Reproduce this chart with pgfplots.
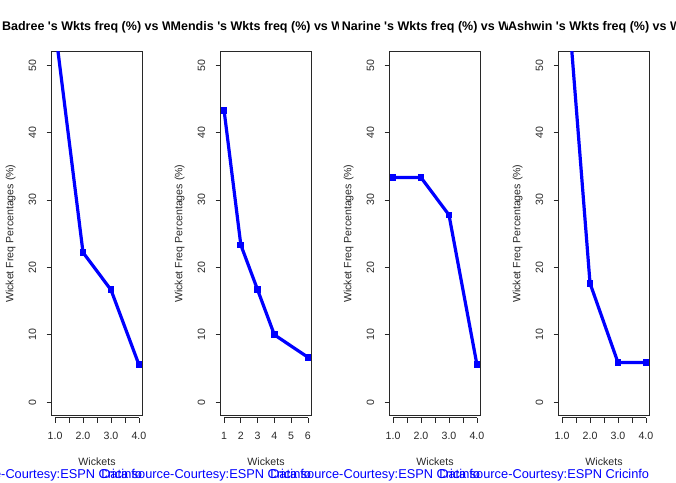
\documentclass[border=0pt]{standalone}
\usepackage{fontspec}
\setmainfont{Liberation Sans}
\usepackage{pgfplots}
\pgfplotsset{compat=1.18}
\definecolor{rblue}{RGB}{0,0,255}
\definecolor{rgray}{RGB}{40,40,40}
\pgfplotsset{
 rpanel/.style={
  anchor=south west, width=90.6pt, height=364pt, scale only axis,
  ymin=-2, ymax=52, ytick={0,10,20,30,40,50},
  tick align=outside, major tick length=5pt,
  xtick pos=bottom, ytick pos=left,
  axis line style={line width=0.8pt, rgray},
  tick style={line width=0.8pt, rgray},
  x tick style={yshift=-2pt},
  clip mode=individual,
  /pgf/number format/assume math mode=true,
  tick label style={font=\fontsize{10.6}{12}\selectfont, text=rgray},
  yticklabel style={rotate=90, anchor=south},
  xticklabel style={anchor=north},
  yticklabel shift=7pt,
  xticklabel shift=8pt,
  xlabel={Wickets}, ylabel={Wicket Freq Percentages (\%)},
  label style={font=\fontsize{10.6}{12}\selectfont, text=rgray},
  xlabel style={at={([yshift=-46.3pt]rel axis cs:0.5,0)}, anchor=center},
  ylabel style={at={([xshift=-41pt]rel axis cs:0,0.5)}, anchor=center},
 },
 rline/.style={rblue, line width=3.2pt, mark=square*, mark size=1.8pt, mark options={solid}},
}
\newcommand{\baseaxis}[1]{%
  \draw[line width=0.8pt, rgray] ([yshift=-2pt]axis cs:1,-2) -- ([yshift=-2pt]axis cs:#1,-2);}
\begin{document}
\begin{tikzpicture}[x=1pt,y=1pt]
\useasboundingbox (0,0) rectangle (676,482);
% Badree
\begin{axis}[rpanel, at={(51.7pt,66.3pt)}, xmin=0.88, xmax=4.12,
  xtick={1,1.5,2,2.5,3,3.5,4}, xticklabels={1.0,{},2.0,{},3.0,{},4.0}]
\addplot[rline] coordinates {(1,55.56) (2,22.22) (3,16.67) (4,5.56)};
\baseaxis{4}
\end{axis}
% Mendis
\begin{axis}[rpanel, at={(220.7pt,66.3pt)}, xmin=0.8, xmax=6.2,
  xtick={1,2,3,4,5,6}, xticklabels={1,2,3,4,5,6}]
\addplot[rline] coordinates {(1,43.33) (2,23.33) (3,16.67) (4,10) (6,6.67)};
\baseaxis{6}
\end{axis}
% Narine
\begin{axis}[rpanel, at={(389.7pt,66.3pt)}, xmin=0.88, xmax=4.12,
  xtick={1,1.5,2,2.5,3,3.5,4}, xticklabels={1.0,{},2.0,{},3.0,{},4.0}]
\addplot[rline] coordinates {(1,33.33) (2,33.33) (3,27.78) (4,5.56)};
\baseaxis{4}
\end{axis}
% Ashwin
\begin{axis}[rpanel, at={(558.7pt,66.3pt)}, xmin=0.88, xmax=4.12,
  xtick={1,1.5,2,2.5,3,3.5,4}, xticklabels={1.0,{},2.0,{},3.0,{},4.0}]
\addplot[rline] coordinates {(1,70.59) (2,17.65) (3,5.88) (4,5.88)};
\baseaxis{4}
\end{axis}
% titles (clipped to figure regions)
\foreach \i/\nm in {0/Badree,1/Mendis,2/Narine,3/Ashwin}{
  \begin{scope}
  \clip ({169*\i},430) rectangle ({169*(\i+1)},482);
  \node[font=\fontsize{12.5}{14}\selectfont\bfseries, anchor=center, inner sep=0pt]
    at ({97+169*\i},455) {\nm\ \textquotesingle s Wkts freq (\%) vs Wkts};
  \end{scope}
}
% source notes
\foreach \i in {0,1,2,3}{
  \node[font=\fontsize{12.8}{14}\selectfont, text=rblue, anchor=east, inner sep=0pt]
    at ({142.3+169*\i},7) {Data source-Courtesy:ESPN Cricinfo};
}
\end{tikzpicture}
\end{document}
